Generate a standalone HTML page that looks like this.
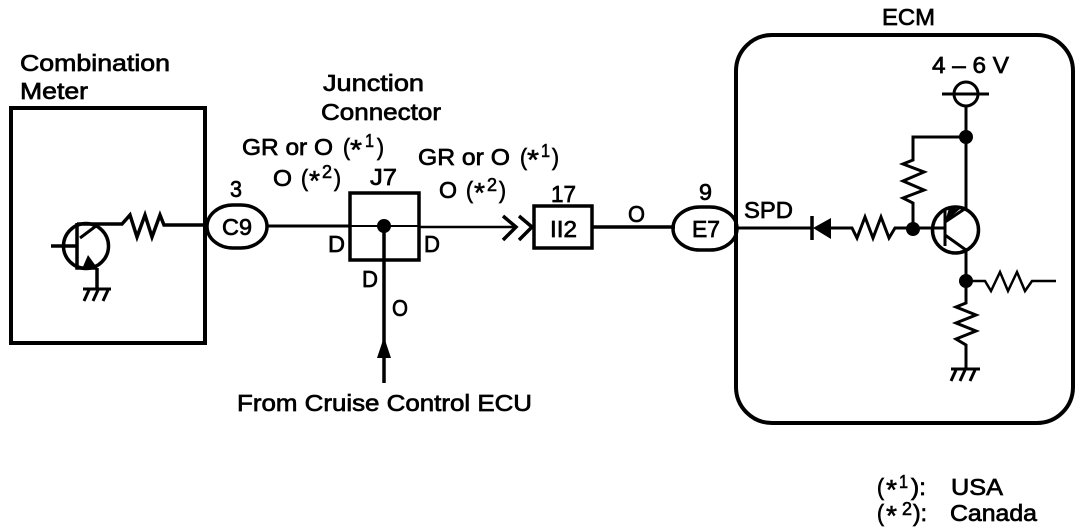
<!DOCTYPE html>
<html><head><meta charset="utf-8"><style>
html,body{margin:0;padding:0;background:#fff}
svg{display:block}
text{font-family:"Liberation Sans",sans-serif;font-size:23px;fill:#000;stroke:#000;stroke-width:.7}
.s{font-size:18px;stroke-width:.6}
.a{font-size:28px;stroke-width:.6}
</style></head><body>
<svg width="1088" height="532" viewBox="0 0 1088 532" xmlns="http://www.w3.org/2000/svg">
<g fill="none" stroke="#000" stroke-width="3.5" stroke-linejoin="miter">
<!-- meter -->
<rect x="11" y="108" width="194" height="235" stroke-width="4"/>
<circle cx="86" cy="246" r="22.5"/>
<path d="M51 246H77M77 223V268H97"/>
<path d="M77 224H122L130 215L137 237L145 215L152 237L160 215L164 225H207"/>
<path d="M80 238L96 226" stroke-width="3"/>
<path d="M97 268V289" stroke-width="3.5"/>
<path d="M83 289H111M89 290L84 301M98 290L93 301M108 290L103 301" stroke-width="3"/>
<!-- C9 -->
<rect x="207" y="205" width="60" height="43" rx="26" ry="21.5"/>
<path d="M267 226H350" stroke-width="3"/>
<!-- J7 -->
<rect x="350" y="193" width="69" height="67"/>
<path d="M350 226H419" stroke-width="2"/>
<path d="M419 227H515" stroke-width="2.5"/>
<path d="M503 216L516 227L503 240M519 216L532 227L519 240"/>
<path d="M384 226V383"/>
<!-- II2 -->
<rect x="534" y="206" width="58" height="42"/>
<path d="M592 227H675"/>
<!-- E7 -->
<rect x="673" y="207" width="64" height="43" rx="27" ry="21.5"/>
<!-- ECM -->
<rect x="736" y="35" width="337" height="388" rx="36" stroke-width="4"/>
<!-- top -->
<circle cx="966" cy="94" r="12" stroke-width="3"/>
<path d="M942 94H989" stroke-width="3"/>
<path d="M966 106V210M966 137H913V160L903 164L924 172L903 181L924 190L903 198L913 203V229" stroke-width="3"/>
<!-- spd line -->
<path d="M737 228H812M829 228H852L857 238L865 217L873 238L881 217L889 238L895 228H945" stroke-width="3"/>
<path d="M812 216V240" stroke-width="3.5"/>
<!-- ecm transistor -->
<circle cx="955.5" cy="230" r="23"/>
<path d="M945 210V246" stroke-width="3"/>
<path d="M945 235L966 250V281" stroke-width="3"/>
<path d="M945 222L966 208" stroke-width="3"/>
<!-- lower -->
<path d="M966 281H985L991 291L1000 272L1008 291L1017 272L1025 291L1032 281H1056" stroke-width="2.5"/>
<path d="M966 281V303L956 307L976 315L956 323L976 331L956 339L966 345V368" stroke-width="3"/>
<path d="M951 369H980M956 370L951 381M965 370L960 381M975 370L970 381" stroke-width="3"/>
</g>
<g fill="#000">
<path d="M88 255L82 269H98Z"/>
<circle cx="384" cy="226" r="7"/>
<path d="M384 337L391 358H377Z"/>
<path d="M813 228L831 218V239Z"/>
<circle cx="966" cy="137" r="7"/>
<circle cx="913" cy="229" r="7"/>
<circle cx="966" cy="281" r="7"/>
<path d="M945 222L949 208L960 209Z"/>
</g>
<g>
<text x="20" y="71" textLength="150" lengthAdjust="spacingAndGlyphs">Combination</text>
<text x="20" y="99" textLength="68" lengthAdjust="spacingAndGlyphs">Meter</text>
<text x="323" y="91" textLength="101" lengthAdjust="spacingAndGlyphs">Junction</text>
<text x="321" y="120" textLength="120" lengthAdjust="spacingAndGlyphs">Connector</text>

<text x="242" y="155" textLength="91" lengthAdjust="spacingAndGlyphs">GR or O</text>
<text x="343" y="155" textLength="7" lengthAdjust="spacingAndGlyphs">(</text>
<text x="350" y="159" class="a" textLength="12" lengthAdjust="spacingAndGlyphs">*</text><text x="365" y="147" class="s" textLength="9" lengthAdjust="spacingAndGlyphs">1</text>
<text x="377" y="155" textLength="7" lengthAdjust="spacingAndGlyphs">)</text>

<text x="273" y="186" textLength="19" lengthAdjust="spacingAndGlyphs">O</text>
<text x="301" y="186" textLength="7" lengthAdjust="spacingAndGlyphs">(</text>
<text x="309" y="190" class="a" textLength="11" lengthAdjust="spacingAndGlyphs">*</text><text x="322" y="178" class="s" textLength="10" lengthAdjust="spacingAndGlyphs">2</text>
<text x="334" y="186" textLength="7" lengthAdjust="spacingAndGlyphs">)</text>

<text x="418" y="165" textLength="92" lengthAdjust="spacingAndGlyphs">GR or O</text>
<text x="520" y="165" textLength="7" lengthAdjust="spacingAndGlyphs">(</text>
<text x="527" y="169" class="a" textLength="12" lengthAdjust="spacingAndGlyphs">*</text><text x="541" y="157" class="s" textLength="9" lengthAdjust="spacingAndGlyphs">1</text>
<text x="552" y="165" textLength="7" lengthAdjust="spacingAndGlyphs">)</text>

<text x="439" y="198" textLength="18" lengthAdjust="spacingAndGlyphs">O</text>
<text x="466" y="198" textLength="7" lengthAdjust="spacingAndGlyphs">(</text>
<text x="474" y="202" class="a" textLength="11" lengthAdjust="spacingAndGlyphs">*</text><text x="487" y="191" class="s" textLength="10" lengthAdjust="spacingAndGlyphs">2</text>
<text x="499" y="198" textLength="7" lengthAdjust="spacingAndGlyphs">)</text>

<text x="370" y="185" textLength="27" lengthAdjust="spacingAndGlyphs">J7</text>
<text x="230" y="197" textLength="12" lengthAdjust="spacingAndGlyphs">3</text>
<text x="551" y="202" textLength="25" lengthAdjust="spacingAndGlyphs">17</text>
<text x="699" y="200" textLength="13" lengthAdjust="spacingAndGlyphs">9</text>
<text x="222" y="235" textLength="30" lengthAdjust="spacingAndGlyphs">C9</text>
<text x="550" y="237" textLength="27" lengthAdjust="spacingAndGlyphs">II2</text>
<text x="692" y="237" textLength="28" lengthAdjust="spacingAndGlyphs">E7</text>
<text x="628" y="222" textLength="17" lengthAdjust="spacingAndGlyphs">O</text>
<text x="328" y="252" textLength="17" lengthAdjust="spacingAndGlyphs">D</text>
<text x="424" y="252" textLength="16" lengthAdjust="spacingAndGlyphs">D</text>
<text x="362" y="287" textLength="16" lengthAdjust="spacingAndGlyphs">D</text>
<text x="392" y="316" textLength="16" lengthAdjust="spacingAndGlyphs">O</text>
<text x="237" y="411" textLength="295" lengthAdjust="spacingAndGlyphs">From Cruise Control ECU</text>
<text x="882" y="25" textLength="53" lengthAdjust="spacingAndGlyphs">ECM</text>
<text x="932" y="73" textLength="77" lengthAdjust="spacingAndGlyphs">4 – 6 V</text>
<text x="744" y="218" textLength="49" lengthAdjust="spacingAndGlyphs">SPD</text>

<text x="877" y="495" textLength="7" lengthAdjust="spacingAndGlyphs">(</text>
<text x="886" y="499" class="a" textLength="11" lengthAdjust="spacingAndGlyphs">*</text><text x="899" y="488" class="s" textLength="9" lengthAdjust="spacingAndGlyphs">1</text>
<text x="911" y="495" textLength="15" lengthAdjust="spacingAndGlyphs">):</text>
<text x="951" y="495" textLength="52" lengthAdjust="spacingAndGlyphs">USA</text>

<text x="877" y="521" textLength="7" lengthAdjust="spacingAndGlyphs">(</text>
<text x="886" y="525" class="a" textLength="11" lengthAdjust="spacingAndGlyphs">*</text><text x="902" y="515" class="s" textLength="10" lengthAdjust="spacingAndGlyphs">2</text>
<text x="913" y="521" textLength="14" lengthAdjust="spacingAndGlyphs">):</text>
<text x="950" y="521" textLength="87" lengthAdjust="spacingAndGlyphs">Canada</text>
</g>
</svg>
</body></html>
